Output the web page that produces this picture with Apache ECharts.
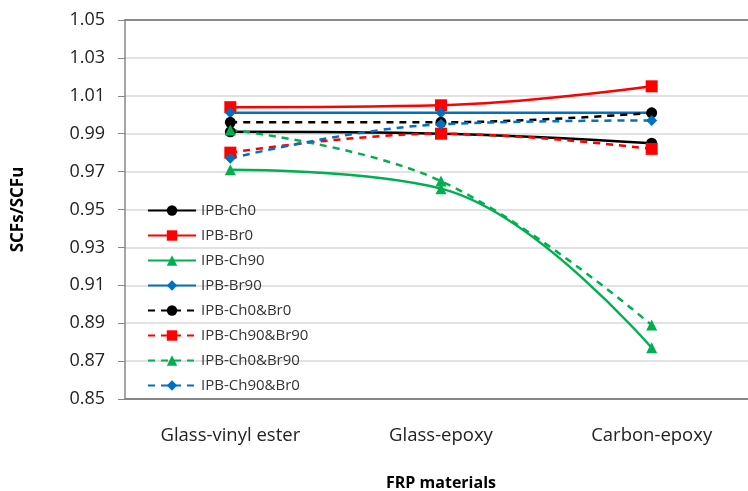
<!DOCTYPE html>
<html>
<head>
<meta charset="utf-8">
<script src="https://cdn.jsdelivr.net/npm/echarts@6/dist/echarts.min.js"></script>
<style>
  html, body { margin: 0; padding: 0; background: #fff; }
  #chart { width: 748px; height: 491px; }
</style>
</head>
<body>
<div id="chart"></div>
<script>
// categories on the x axis
var materials = ['Glass-vinyl ester', 'Glass-epoxy', 'Carbon-epoxy'];

// SCFs/SCFu values per series
var ch0 = [0.991, 0.990, 0.985];
var br0 = [1.004, 1.005, 1.015];
var ch90 = [0.971, 0.961, 0.877];
var br90 = [1.001, 1.001, 1.001];
var ch0br0 = [0.996, 0.996, 1.001];
var ch90br90 = [0.980, 0.990, 0.982];
var ch0br90 = [0.992, 0.965, 0.889];
var ch90br0 = [0.977, 0.995, 0.997];

var seriesNames = ['IPB-Ch0', 'IPB-Br0', 'IPB-Ch90', 'IPB-Br90',
  'IPB-Ch0&Br0', 'IPB-Ch90&Br90', 'IPB-Ch0&Br90', 'IPB-Ch90&Br0'];
var seriesData = [ch0, br0, ch90, br90, ch0br0, ch90br90, ch0br90, ch90br0];

var colors = ['#000000', '#ff0000', '#00b050', '#0070c0'];
var symbols = ['circle', 'rect', 'triangle', 'diamond'];
var symbolSizes = [11, 12, 11, 11];

var font = 'Open Sans, Noto Sans, sans-serif';

var chart = echarts.init(document.getElementById('chart'));

var series = [];
for (var i = 0; i < seriesData.length; i++) {
  var k = i % 4;
  var dashed = i >= 4;
  series.push({
    name: seriesNames[i],
    type: 'line',
    data: seriesData[i],
    smooth: 0.4,
    symbol: symbols[k],
    symbolSize: symbolSizes[k],
    color: colors[k],
    lineStyle: {
      width: 2.5,
      type: dashed ? [7, 6] : 'solid'
    },
    itemStyle: { color: colors[k] }
  });
}

var option = {
  animation: false,
  grid: {
    left: 125,
    top: 20,
    bottom: 92,
    width: 632,
    outerBoundsMode: 'none',
    containLabel: false
  },
  legend: {
    orient: 'vertical',
    left: 142,
    top: 198,
    itemWidth: 48,
    itemHeight: 13,
    itemGap: 10,
    selectedMode: false,
    data: seriesNames,
    textStyle: {
      fontFamily: font,
      fontSize: 15,
      lineHeight: 13,
      color: '#333'
    }
  },
  xAxis: [
    {
      type: 'category',
      data: materials,
      name: 'FRP materials',
      nameLocation: 'middle',
      nameGap: 76,
      nameTextStyle: {
        fontFamily: font,
        fontSize: 16,
        fontWeight: 'bold',
        color: '#000'
      },
      axisLine: { lineStyle: { color: '#868686', width: 2 } },
      axisTick: { show: false },
      axisLabel: {
        margin: 27,
        fontFamily: font,
        fontSize: 18.5,
        color: '#222'
      }
    },
    {
      type: 'category',
      data: materials,
      position: 'top',
      axisLine: { lineStyle: { color: '#6e6e6e', width: 1.5 } },
      axisTick: { show: false },
      axisLabel: { show: false }
    }
  ],
  yAxis: {
    type: 'value',
    min: 0.85,
    max: 1.05,
    interval: 0.02,
    name: 'SCFs/SCFu',
    nameLocation: 'middle',
    nameGap: 98,
    nameTextStyle: {
      fontFamily: font,
      fontSize: 17,
      fontWeight: 'bold',
      color: '#000'
    },
    axisLine: { show: true, lineStyle: { color: '#868686', width: 1.5 } },
    axisTick: { show: true, inside: false, length: 7, lineStyle: { color: '#868686' } },
    axisLabel: {
      margin: 20,
      fontFamily: font,
      fontSize: 18,
      color: '#222',
      formatter: function (v) { return v.toFixed(2); }
    },
    splitLine: { lineStyle: { color: '#d9d9d9', width: 1.5 } }
  },
  series: series
};

chart.setOption(option);
</script>
</body>
</html>
